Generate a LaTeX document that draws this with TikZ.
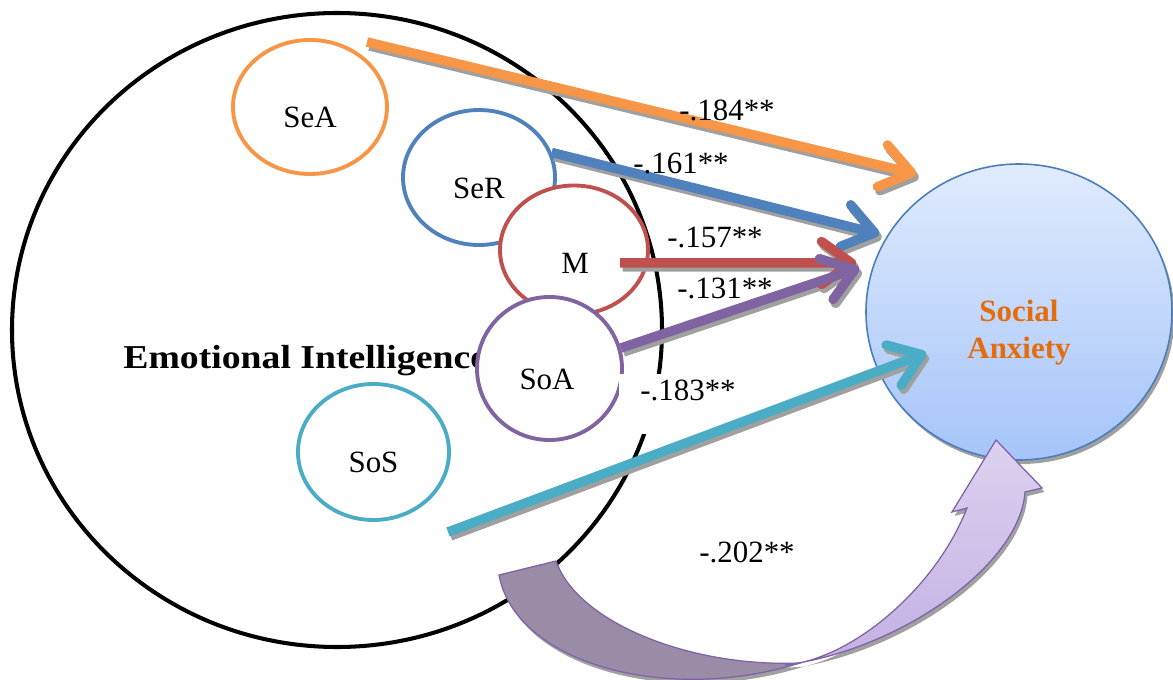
\documentclass[tikz,border=0pt]{standalone}
\usepackage{fontspec}
\setmainfont{Liberation Serif}
\usepackage{xcolor}
\usepackage{tikz}
\usetikzlibrary{arrows.meta,positioning,calc,shapes.geometric}
\definecolor{eOrange}{HTML}{F79646}
\definecolor{eBlue}{HTML}{4F81BD}
\definecolor{eRed}{HTML}{C0504D}
\definecolor{ePurple}{HTML}{8064A2}
\definecolor{eTeal}{HTML}{4BACC6}
\definecolor{saText}{HTML}{E46C0A}
\definecolor{saTop}{HTML}{E0EBFD}
\definecolor{saBot}{HTML}{A5C4F9}
\definecolor{saLine}{HTML}{4A7EBB}
\definecolor{shadowG}{HTML}{A0A0A0}
\definecolor{bowDark}{HTML}{9A8BA6}
\definecolor{bowTop}{HTML}{DDD1EF}
\definecolor{bowBot}{HTML}{C2B0E3}
\definecolor{bowLine}{HTML}{7D62A6}
\tikzset{
  trait/.style={ellipse, draw=#1, line width=2.2pt, fill=white, inner sep=0pt},
  traitlab/.style={font=\fontsize{17.6}{21}\selectfont, yshift=-0.21cm},
  numlab/.style={font=\fontsize{17.6}{21}\selectfont, inner sep=1pt},
  effect/.style={line width=0.19cm, draw=#1,
                 -{Straight Barb[length=0.6cm, width=0.86cm, round]}},
  dropshade/.style={preaction={fill=shadowG,
                   transform canvas={xshift=0.05cm, yshift=-0.08cm}}},
}
\begin{document}
\begin{tikzpicture}[x=1cm, y=1cm]
  \useasboundingbox (0,0) rectangle (23.46,-13.6);
  % emotional intelligence
  \node[ellipse, draw, line width=2.3pt, minimum width=13.0cm,
        minimum height=12.68cm, inner sep=0pt] (emo) at (6.74,-6.60) {};
  \node[anchor=base west, inner sep=0pt,
        font=\fontsize{19}{22}\selectfont\bfseries] (emoLab) at (2.46,-7.36)
    {\scalebox{1.13}[1]{Emotional Intelligence}};
  % components
  \node[trait=eOrange, minimum width=3.08cm, minimum height=2.68cm,
        label={[traitlab]center:SeA}] (sea) at (6.20,-2.14) {};
  \node[trait=eTeal, minimum width=3.02cm, minimum height=2.72cm,
        label={[traitlab]center:SoS}] (sos) at (7.47,-9.04) {};
  \node[trait=eBlue, minimum width=3.04cm, minimum height=2.70cm,
        label={[traitlab]center:SeR}] (ser) at (9.58,-3.55) {};
  \node[trait=eRed, minimum width=2.96cm, minimum height=2.58cm,
        label={[traitlab, xshift=0.02cm, yshift=-0.05cm]center:M}] (m) at (11.48,-5.00) {};
  \node[trait=ePurple, minimum width=2.90cm, minimum height=2.86cm,
        label={[traitlab, xshift=-0.05cm]center:SoA}] (soa) at (10.99,-7.37) {};
  % social anxiety
  \node[ellipse, draw=saLine, line width=0.9pt, top color=saTop,
        bottom color=saBot, dropshade, minimum width=6.12cm,
        minimum height=5.92cm, inner sep=0pt,
        label={[align=center, text=saText, yshift=-0.41cm,
                font=\fontsize{17.6}{21}\selectfont\bfseries]center:Social\\Anxiety}]
    (sa) at (20.38,-6.24) {};
  % label box over the circle
  \node[numlab, fill=white, inner xsep=0.42cm, inner ysep=0.06cm,
        text height=0.47cm, text depth=0.61cm, anchor=base] (wSoS)
    at (13.76,-8.01) {-.183**};
  % paths
  \coordinate (seaOut) at (7.34,-0.84);
  \coordinate (mOut) at ($(m.center)+(0.92,-0.26)$);
  \coordinate (sosOut) at (8.96,-10.64);
  \coordinate (saA) at ($(sa.west)+(1.02,2.76)$);
  \coordinate (saB) at ($(sa.west)+(0.28,1.56)$);
  \coordinate (saC) at ($(sa.west)+(-0.18,0.98)$);
  \coordinate (saD) at ($(sa.west)+(-0.12,0.88)$);
  \coordinate (saE) at ($(sa.west)+(1.22,-0.82)$);
  \begin{scope}[transform canvas={xshift=0.05cm, yshift=-0.08cm}]
    \draw[effect=shadowG] (seaOut) -- (saA);
    \draw[effect=shadowG] (ser.19) -- (saB);
    \draw[effect=shadowG] (mOut) -- (saC);
    \draw[effect=shadowG] (soa.16) -- (saD);
    \draw[effect=shadowG] (sosOut) -- (saE);
  \end{scope}
  \draw[effect=eOrange] (seaOut) -- (saA);
  \draw[effect=eBlue] (ser.19) -- (saB);
  \draw[effect=eRed] (mOut) -- (saC);
  \draw[effect=ePurple] (soa.16) -- (saD);
  \draw[effect=eTeal] (sosOut) -- (saE);
  % total effect
  \filldraw[fill=bowDark, draw=bowLine, line width=0.7pt, dropshade]
    (9.98,-11.50) -- (11.12,-11.22)
    .. controls (11.55,-12.45) and (13.8,-13.35) .. (16.0,-13.26)
    .. controls (13.3,-14.1) and (10.3,-13.25) .. cycle;
  \filldraw[top color=bowTop, bottom color=bowBot, draw=bowLine,
            line width=0.7pt, dropshade]
    (15.7,-13.3) .. controls (18.0,-13.0) and (20.4,-11.3) .. (20.5,-9.84)
    -- (20.84,-9.76) -- (19.92,-8.80) -- (19.04,-10.24) -- (19.34,-10.16)
    .. controls (18.7,-11.8) and (17.0,-13.2) .. cycle;
  % coefficients
  \node[numlab] (wSeA) at (14.54,-2.20) {-.184**};
  \node[numlab] (wSeR) at (13.62,-3.26) {-.161**};
  \node[numlab] (wM) at (14.30,-4.76) {-.157**};
  \node[numlab] (wSoA) at (14.50,-5.76) {-.131**};
  \node[numlab] (wTot) at (14.94,-11.04) {-.202**};
\end{tikzpicture}
\end{document}
